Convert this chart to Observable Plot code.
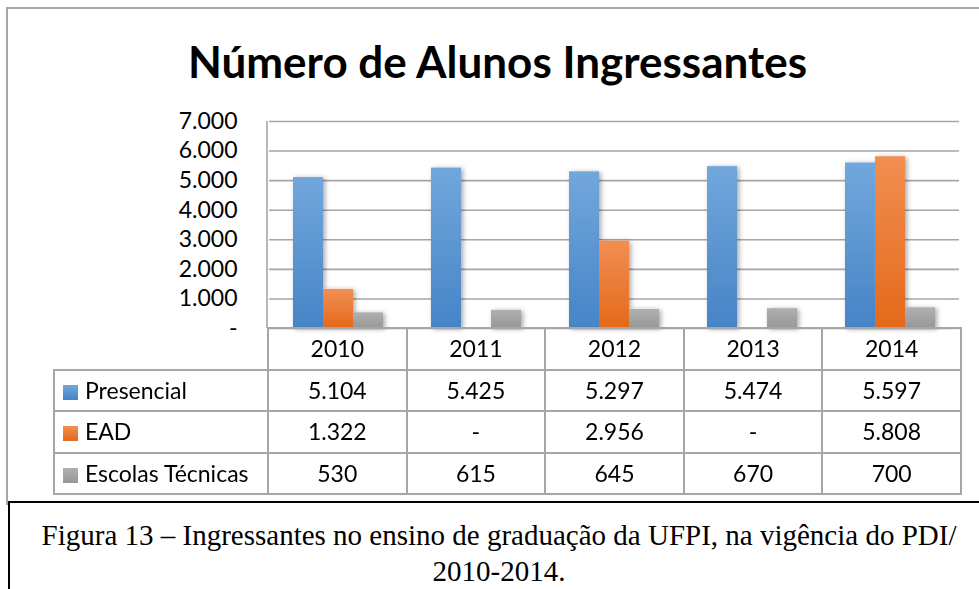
<!DOCTYPE html>
<html>
<head>
<meta charset="utf-8">
<script src="https://cdn.jsdelivr.net/npm/d3@7"></script>
<script src="https://cdn.jsdelivr.net/npm/@observablehq/plot@0.6"></script>
<style>
  html, body { margin: 0; padding: 0; background: #fff; }
  #wrap { position: relative; width: 979px; height: 589px; overflow: hidden; background: #fff; font-family: Lato, "Open Sans", sans-serif; }
  #chartBorder { position: absolute; left: 6px; top: 7px; width: 990px; height: 498px; border-top: 2px solid #a6a6a6; border-left: 2px solid #a6a6a6; box-sizing: border-box; }
  #title { position: absolute; left: 0; width: 995px; top: 33px; text-align: center; font-weight: bold; font-size: 44px; line-height: 56px; color: #000; }
  #plot { position: absolute; left: 0; top: 100px; }
  #tbl { position: absolute; left: 53px; top: 327px; border-collapse: collapse; table-layout: fixed; font-size: 23px; color: #000; }
  #tbl td { border: 2px solid #a6a6a6; text-align: center; padding: 0; height: 39.5px; line-height: 39.5px; white-space: nowrap; }
  #tbl td.blank { border: none; }
  #tbl td.lab { text-align: left; padding-left: 8px; }
  .key { display: inline-block; width: 15px; height: 15px; margin-right: 7px; vertical-align: -1px; }
  #caption { position: absolute; left: 8px; top: 501px; width: 990px; height: 100px; border-top: 2px solid #000; border-left: 2px solid #000; box-sizing: border-box; font-family: "Liberation Serif", "Times New Roman", serif; font-size: 29px; line-height: 36px; text-align: center; padding-top: 14px; padding-right: 10px; color: #000; white-space: nowrap; }
</style>
</head>
<body>
<div id="wrap">
  <div id="chartBorder"></div>
  <div id="title"></div>
  <div id="plot"></div>
  <table id="tbl"></table>
  <div id="caption"></div>
</div>
<script>
// ---- data ----
const titleText = "Número de Alunos Ingressantes";
const years = ["2010", "2011", "2012", "2013", "2014"];
const seriesNames = ["Presencial", "EAD", "Escolas Técnicas"];
const presencial = [5104, 5425, 5297, 5474, 5597];
const ead = [1322, null, 2956, null, 5808];
const escolas = [530, 615, 645, 670, 700];
const yTicks = [0, 1000, 2000, 3000, 4000, 5000, 6000, 7000];
const captionLines = [
  "Figura 13 – Ingressantes no ensino de graduação da UFPI, na vigência do PDI/",
  "2010-2014."
];
const seriesColors = [
  ["#72a7dc", "#4684c7"],
  ["#f18f52", "#e4691a"],
  ["#b0b0b0", "#979797"]
];

// ---- build ----
const seriesValues = [presencial, ead, escolas];
const rows = years.flatMap((yr, i) =>
  seriesNames.map((s, j) => ({year: yr, series: s, value: seriesValues[j][i]}))
);
const fmt = v => (v == null || v === 0) ? "-" : d3.format(",")(v).replace(/,/g, ".");

document.getElementById("title").textContent = titleText;

const W = 979, ML = 267, MR = 19;
const chart = Plot.plot({
  width: W,
  height: 230,
  marginLeft: ML,
  marginRight: MR,
  marginTop: 21,
  marginBottom: 2,
  style: {fontFamily: "Lato, 'Open Sans', sans-serif", fontSize: "23px", color: "#000", background: "transparent", overflow: "visible"},
  fx: {domain: years, padding: 0, axis: null, label: null},
  x: {domain: seriesNames, paddingInner: 0, paddingOuter: 0.75, axis: null},
  y: {domain: [0, 7000], ticks: yTicks, tickFormat: fmt, tickSize: 0, tickPadding: 32, label: null},
  color: {domain: seriesNames, range: ["url(#gP)", "url(#gE)", "url(#gT)"]},
  marks: [
    Plot.ruleY(yTicks, {stroke: "#a6a6a6", strokeWidth: 1.6}),
    Plot.barY(rows.filter(d => d.value != null), {fx: "year", x: "series", y: "value", fill: "series", inset: 0})
  ]
});

// gradients & shadow defs
const svg = chart.tagName.toLowerCase() === "svg" ? chart : chart.querySelector("svg");
const ns = "http://www.w3.org/2000/svg";
const defs = document.createElementNS(ns, "defs");
const ids = ["gP", "gE", "gT"];
ids.forEach((id, k) => {
  const g = document.createElementNS(ns, "linearGradient");
  g.setAttribute("id", id);
  g.setAttribute("x1", "0"); g.setAttribute("y1", "0"); g.setAttribute("x2", "0"); g.setAttribute("y2", "1");
  [[0, seriesColors[k][0]], [1, seriesColors[k][1]]].forEach(([o, c]) => {
    const s = document.createElementNS(ns, "stop");
    s.setAttribute("offset", o); s.setAttribute("stop-color", c);
    g.appendChild(s);
  });
  defs.appendChild(g);
});
const filt = document.createElementNS(ns, "filter");
filt.setAttribute("id", "sh");
filt.setAttribute("x", "-20%"); filt.setAttribute("y", "-10%"); filt.setAttribute("width", "150%"); filt.setAttribute("height", "130%");
filt.innerHTML = '<feDropShadow dx="2" dy="1" stdDeviation="2.5" flood-color="#000" flood-opacity="0.35"/>';
defs.appendChild(filt);
svg.insertBefore(defs, svg.firstChild);
svg.querySelectorAll('g[aria-label="bar"]').forEach(g => g.setAttribute("filter", "url(#sh)"));

// left vertical axis line drawn from the y scale
const ys = chart.scale("y");
const vl = document.createElementNS(ns, "line");
vl.setAttribute("x1", ML); vl.setAttribute("x2", ML);
vl.setAttribute("y1", ys.apply(7000)); vl.setAttribute("y2", ys.apply(0));
vl.setAttribute("stroke", "#a6a6a6"); vl.setAttribute("stroke-width", 1.6);
svg.appendChild(vl);

document.getElementById("plot").appendChild(chart);

// data table aligned with the fx scale
const bw = (W - ML - MR) / years.length;
const tbl = document.getElementById("tbl");
const cg = document.createElement("colgroup");
const c0 = document.createElement("col"); c0.style.width = (ML - 53) + "px"; cg.appendChild(c0);
years.forEach(() => { const c = document.createElement("col"); c.style.width = bw + "px"; cg.appendChild(c); });
tbl.appendChild(cg);
const hr = document.createElement("tr");
const blank = document.createElement("td"); blank.className = "blank"; hr.appendChild(blank);
years.forEach(y => { const td = document.createElement("td"); td.textContent = y; hr.appendChild(td); });
tbl.appendChild(hr);
seriesNames.forEach((s, j) => {
  const tr = document.createElement("tr");
  const lab = document.createElement("td"); lab.className = "lab";
  const key = document.createElement("span"); key.className = "key";
  key.style.background = `linear-gradient(${seriesColors[j][0]}, ${seriesColors[j][1]})`;
  lab.appendChild(key); lab.appendChild(document.createTextNode(s));
  tr.appendChild(lab);
  seriesValues[j].forEach(v => { const td = document.createElement("td"); td.textContent = fmt(v); tr.appendChild(td); });
  tbl.appendChild(tr);
});

const cap = document.getElementById("caption");
captionLines.forEach((t, i) => { const d = document.createElement("div"); d.textContent = t; cap.appendChild(d); });
</script>
</body>
</html>
